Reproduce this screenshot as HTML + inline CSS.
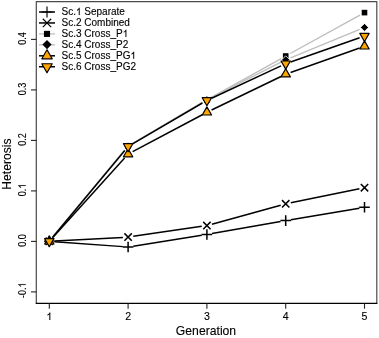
<!DOCTYPE html>
<html><head><meta charset="utf-8"><style>
html,body{margin:0;padding:0;background:#fff;}
svg{display:block;will-change:transform;font-family:"Liberation Sans",sans-serif;}
text{stroke:#000;stroke-width:0.12px;}
</style></head><body>
<svg width="379" height="338" viewBox="0 0 379 338">
<rect width="379" height="338" fill="#fff"/>
<path d="M36.3 303.3V1.6H376.8V303.3" fill="none" stroke="#4a4a4a" stroke-width="1.2" stroke-linejoin="round"/>
<line x1="35.699999999999996" y1="303.3" x2="377.40000000000003" y2="303.3" stroke="#000" stroke-width="1.2"/>
<line x1="49.3" y1="303.3" x2="49.3" y2="308.7" stroke="#222" stroke-width="1.1"/>
<g transform="translate(49.3 320.0) scale(1 1.0)"><text id="t1" font-size="10.6" text-anchor="middle"> </text><path transform="translate(-2.953 0) scale(0.005176 -0.005176)" d="M584 0L763 0L763 1466L647 1466Q590 1340 460 1220Q340 1110 223 1052L223 879Q320 915 420 978Q530 1046 584 1106Z" fill="#000" stroke="#000" stroke-width="23.185"/></g>
<line x1="128.1" y1="303.3" x2="128.1" y2="308.7" stroke="#222" stroke-width="1.1"/>
<g transform="translate(128.1 320.0) scale(1 1.0)"><text font-size="10.6" text-anchor="middle">2</text></g>
<line x1="206.9" y1="303.3" x2="206.9" y2="308.7" stroke="#222" stroke-width="1.1"/>
<g transform="translate(206.9 320.0) scale(1 1.0)"><text font-size="10.6" text-anchor="middle">3</text></g>
<line x1="285.7" y1="303.3" x2="285.7" y2="308.7" stroke="#222" stroke-width="1.1"/>
<g transform="translate(285.7 320.0) scale(1 1.0)"><text font-size="10.6" text-anchor="middle">4</text></g>
<line x1="364.5" y1="303.3" x2="364.5" y2="308.7" stroke="#222" stroke-width="1.1"/>
<g transform="translate(364.5 320.0) scale(1 1.0)"><text font-size="10.6" text-anchor="middle">5</text></g>
<line x1="31" y1="291.9" x2="36.3" y2="291.9" stroke="#222" stroke-width="1.1"/>
<g transform="translate(25.7 290.3) scale(1 0.84) rotate(-90)"><text id="t6" font-size="10.6" text-anchor="middle">-0. </text><path transform="translate(3.223 0) scale(0.005176 -0.005176)" d="M584 0L763 0L763 1466L647 1466Q590 1340 460 1220Q340 1110 223 1052L223 879Q320 915 420 978Q530 1046 584 1106Z" fill="#000" stroke="#000" stroke-width="23.185"/></g>
<line x1="31" y1="241.4" x2="36.3" y2="241.4" stroke="#222" stroke-width="1.1"/>
<g transform="translate(25.7 240.45) scale(1 0.86) rotate(-90)"><text font-size="10.6" text-anchor="middle">0.0</text></g>
<line x1="31" y1="190.9" x2="36.3" y2="190.9" stroke="#222" stroke-width="1.1"/>
<g transform="translate(25.7 189.95) scale(1 0.86) rotate(-90)"><text id="t8" font-size="10.6" text-anchor="middle">0. </text><path transform="translate(1.466 0) scale(0.005176 -0.005176)" d="M584 0L763 0L763 1466L647 1466Q590 1340 460 1220Q340 1110 223 1052L223 879Q320 915 420 978Q530 1046 584 1106Z" fill="#000" stroke="#000" stroke-width="23.185"/></g>
<line x1="31" y1="140.4" x2="36.3" y2="140.4" stroke="#222" stroke-width="1.1"/>
<g transform="translate(25.7 139.45) scale(1 0.86) rotate(-90)"><text font-size="10.6" text-anchor="middle">0.2</text></g>
<line x1="31" y1="89.9" x2="36.3" y2="89.9" stroke="#222" stroke-width="1.1"/>
<g transform="translate(25.7 88.95) scale(1 0.86) rotate(-90)"><text font-size="10.6" text-anchor="middle">0.3</text></g>
<line x1="31" y1="39.4" x2="36.3" y2="39.4" stroke="#222" stroke-width="1.1"/>
<g transform="translate(25.7 38.45) scale(1 0.86) rotate(-90)"><text font-size="10.6" text-anchor="middle">0.4</text></g>
<g transform="translate(206 334.6)"><text font-size="12.2" text-anchor="middle">Generation</text></g>
<g transform="translate(11.4 164.1) scale(1 0.96) rotate(-90)"><text font-size="12.6" text-anchor="middle">Heterosis</text></g>
<line x1="54.486" y1="241.675" x2="122.914" y2="246.625" stroke="#000" stroke-width="1.5"/>
<line x1="133.236" y1="246.185" x2="201.764" y2="235.315" stroke="#000" stroke-width="1.5"/>
<line x1="212.021" y1="233.597" x2="280.579" y2="221.503" stroke="#000" stroke-width="1.5"/>
<line x1="290.827" y1="219.735" x2="359.373" y2="208.165" stroke="#000" stroke-width="1.5"/>
<line x1="54.493" y1="241.023" x2="122.907" y2="237.377" stroke="#000" stroke-width="1.5"/>
<line x1="133.245" y1="236.349" x2="201.755" y2="226.351" stroke="#000" stroke-width="1.5"/>
<line x1="211.912" y1="224.214" x2="280.688" y2="205.186" stroke="#000" stroke-width="1.5"/>
<line x1="290.795" y1="202.759" x2="359.405" y2="188.741" stroke="#000" stroke-width="1.5"/>
<line x1="52.614" y1="237.293" x2="124.786" y2="150.007" stroke="#bebebe" stroke-width="1.4"/>
<line x1="132.588" y1="143.374" x2="202.412" y2="102.526" stroke="#bebebe" stroke-width="1.4"/>
<line x1="211.443" y1="97.369" x2="281.157" y2="58.531" stroke="#bebebe" stroke-width="1.4"/>
<line x1="290.255" y1="53.491" x2="359.945" y2="15.109" stroke="#bebebe" stroke-width="1.4"/>
<line x1="52.618" y1="237.296" x2="124.782" y2="150.204" stroke="#bebebe" stroke-width="1.4"/>
<line x1="132.578" y1="143.557" x2="202.422" y2="102.343" stroke="#bebebe" stroke-width="1.4"/>
<line x1="211.539" y1="97.351" x2="281.061" y2="62.149" stroke="#bebebe" stroke-width="1.4"/>
<line x1="290.509" y1="57.823" x2="359.691" y2="29.377" stroke="#bebebe" stroke-width="1.4"/>
<line x1="52.786" y1="237.442" x2="124.614" y2="157.958" stroke="#000" stroke-width="1.5"/>
<line x1="132.694" y1="151.663" x2="202.306" y2="114.737" stroke="#000" stroke-width="1.5"/>
<line x1="211.582" y1="110.036" x2="281.018" y2="76.464" stroke="#000" stroke-width="1.5"/>
<line x1="290.602" y1="72.464" x2="359.598" y2="48.036" stroke="#000" stroke-width="1.5"/>
<line x1="52.622" y1="237.299" x2="124.778" y2="150.401" stroke="#000" stroke-width="1.5"/>
<line x1="132.591" y1="143.778" x2="202.409" y2="103.022" stroke="#000" stroke-width="1.5"/>
<line x1="211.614" y1="98.205" x2="280.986" y2="65.895" stroke="#000" stroke-width="1.5"/>
<line x1="290.608" y1="61.981" x2="359.592" y2="37.819" stroke="#000" stroke-width="1.5"/>
<path d="M44 241.3H54.6M49.3 236V246.6" stroke="#000" stroke-width="1.5" fill="none"/>
<path d="M122.8 247H133.4M128.1 241.7V252.3" stroke="#000" stroke-width="1.5" fill="none"/>
<path d="M201.6 234.5H212.2M206.9 229.2V239.8" stroke="#000" stroke-width="1.5" fill="none"/>
<path d="M280.4 220.6H291M285.7 215.3V225.9" stroke="#000" stroke-width="1.5" fill="none"/>
<path d="M359.2 207.3H369.8M364.5 202V212.6" stroke="#000" stroke-width="1.5" fill="none"/>
<path d="M45.6 237.6L53 245M45.6 245L53 237.6" stroke="#000" stroke-width="1.5" fill="none"/>
<path d="M124.4 233.4L131.8 240.8M124.4 240.8L131.8 233.4" stroke="#000" stroke-width="1.5" fill="none"/>
<path d="M203.2 221.9L210.6 229.3M203.2 229.3L210.6 221.9" stroke="#000" stroke-width="1.5" fill="none"/>
<path d="M282 200.1L289.4 207.5M282 207.5L289.4 200.1" stroke="#000" stroke-width="1.5" fill="none"/>
<path d="M360.8 184L368.2 191.4M360.8 191.4L368.2 184" stroke="#000" stroke-width="1.5" fill="none"/>
<rect x="46.5" y="238.5" width="5.6" height="5.6" fill="#000"/>
<rect x="125.3" y="143.2" width="5.6" height="5.6" fill="#000"/>
<rect x="204.1" y="97.1" width="5.6" height="5.6" fill="#000"/>
<rect x="282.9" y="53.2" width="5.6" height="5.6" fill="#000"/>
<rect x="361.7" y="9.8" width="5.6" height="5.6" fill="#000"/>
<path d="M45.3 241.3L49.3 237.3L53.3 241.3L49.3 245.3Z" fill="#000" stroke="#fff" stroke-width="0.8"/>
<path d="M124.1 146.2L128.1 142.2L132.1 146.2L128.1 150.2Z" fill="#000" stroke="#fff" stroke-width="0.8"/>
<path d="M202.9 99.7L206.9 95.7L210.9 99.7L206.9 103.7Z" fill="#000" stroke="#fff" stroke-width="0.8"/>
<path d="M281.7 59.8L285.7 55.8L289.7 59.8L285.7 63.8Z" fill="#000" stroke="#fff" stroke-width="0.8"/>
<path d="M360.5 27.4L364.5 23.4L368.5 27.4L364.5 31.4Z" fill="#000" stroke="#fff" stroke-width="0.8"/>
<path d="M49.3 235.9L53.977 244L44.623 244Z" fill="#ffa500" stroke="#000" stroke-width="1.2" stroke-linejoin="round"/>
<path d="M128.1 148.7L132.777 156.8L123.423 156.8Z" fill="#ffa500" stroke="#000" stroke-width="1.2" stroke-linejoin="round"/>
<path d="M206.9 106.9L211.577 115L202.223 115Z" fill="#ffa500" stroke="#000" stroke-width="1.2" stroke-linejoin="round"/>
<path d="M285.7 68.8L290.377 76.9L281.023 76.9Z" fill="#ffa500" stroke="#000" stroke-width="1.2" stroke-linejoin="round"/>
<path d="M364.5 40.9L369.177 49L359.823 49Z" fill="#ffa500" stroke="#000" stroke-width="1.2" stroke-linejoin="round"/>
<path d="M49.3 246.7L53.977 238.6L44.623 238.6Z" fill="#ffa500" stroke="#000" stroke-width="1.2" stroke-linejoin="round"/>
<path d="M128.1 151.8L132.777 143.7L123.423 143.7Z" fill="#ffa500" stroke="#000" stroke-width="1.2" stroke-linejoin="round"/>
<path d="M206.9 105.8L211.577 97.7L202.223 97.7Z" fill="#ffa500" stroke="#000" stroke-width="1.2" stroke-linejoin="round"/>
<path d="M285.7 69.1L290.377 61L281.023 61Z" fill="#ffa500" stroke="#000" stroke-width="1.2" stroke-linejoin="round"/>
<path d="M364.5 41.5L369.177 33.4L359.823 33.4Z" fill="#ffa500" stroke="#000" stroke-width="1.2" stroke-linejoin="round"/>
<line x1="39" y1="12" x2="55" y2="12" stroke="#000" stroke-width="1.5"/>
<line x1="39" y1="22.95" x2="55" y2="22.95" stroke="#000" stroke-width="1.5"/>
<line x1="39" y1="33.9" x2="55" y2="33.9" stroke="#cacaca" stroke-width="1.6"/>
<line x1="39" y1="44.85" x2="55" y2="44.85" stroke="#cacaca" stroke-width="1.6"/>
<line x1="39" y1="55.8" x2="55" y2="55.8" stroke="#000" stroke-width="1.5"/>
<line x1="39" y1="66.75" x2="55" y2="66.75" stroke="#000" stroke-width="1.5"/>
<path d="M41.4 12H52.6M47 6.4V17.6" stroke="#000" stroke-width="1.15" fill="none"/>
<path d="M42.8 18.75L51.2 27.15M42.8 27.15L51.2 18.75" stroke="#000" stroke-width="1.15" fill="none"/>
<rect x="43.95" y="30.85" width="6.1" height="6.1" fill="#000"/>
<path d="M42.4 44.55L47 39.95L51.6 44.55L47 49.15Z" fill="#000"/>
<path d="M47 49.8L52.196 58.8L41.804 58.8Z" fill="#ffa500" stroke="#000" stroke-width="1.2" stroke-linejoin="round"/>
<path d="M47 72.75L52.196 63.75L41.804 63.75Z" fill="#ffa500" stroke="#000" stroke-width="1.2" stroke-linejoin="round"/>
<g transform="translate(61.5 15) scale(1 1.0)"><text id="t14" font-size="10.0">Sc.  Separate</text><path transform="translate(14.438 0) scale(0.004883 -0.004883)" d="M584 0L763 0L763 1466L647 1466Q590 1340 460 1220Q340 1110 223 1052L223 879Q320 915 420 978Q530 1046 584 1106Z" fill="#000" stroke="#000" stroke-width="24.576"/></g>
<g transform="translate(61.5 25.95) scale(1 1.0)"><text font-size="10.0">Sc.2 Combined</text></g>
<g transform="translate(61.5 36.9) scale(1 1.0)"><text id="t16" font-size="10.0">Sc.3 Cross_P </text><path transform="translate(61.125 0) scale(0.004883 -0.004883)" d="M584 0L763 0L763 1466L647 1466Q590 1340 460 1220Q340 1110 223 1052L223 879Q320 915 420 978Q530 1046 584 1106Z" fill="#000" stroke="#000" stroke-width="24.576"/></g>
<g transform="translate(61.5 47.85) scale(1 1.0)"><text font-size="10.0">Sc.4 Cross_P2</text></g>
<g transform="translate(61.5 58.8) scale(1 1.0)"><text id="t18" font-size="10.0">Sc.5 Cross_PG </text><path transform="translate(68.906 0) scale(0.004883 -0.004883)" d="M584 0L763 0L763 1466L647 1466Q590 1340 460 1220Q340 1110 223 1052L223 879Q320 915 420 978Q530 1046 584 1106Z" fill="#000" stroke="#000" stroke-width="24.576"/></g>
<g transform="translate(61.5 69.75) scale(1 1.0)"><text font-size="10.0">Sc.6 Cross_PG2</text></g>
</svg>
</body></html>
